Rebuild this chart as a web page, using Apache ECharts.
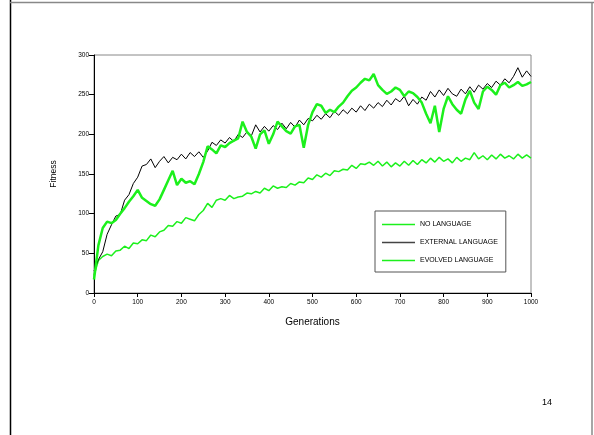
<!DOCTYPE html>
<html>
<head>
<meta charset="utf-8">
<script src="https://cdn.jsdelivr.net/npm/echarts@6/dist/echarts.min.js"></script>
<style>
  html, body { margin: 0; padding: 0; background: #fff; }
  #chart { width: 594px; height: 435px; }
</style>
</head>
<body>
<div id="chart"></div>
<script>
var seriesNames = ['NO LANGUAGE', 'EXTERNAL LANGUAGE', 'EVOLVED LANGUAGE'];

// generations sampled every 10
var generations = [0,10,20,30,40,50,60,70,80,90,
  100,110,120,130,140,150,160,170,180,190,
  200,210,220,230,240,250,260,270,280,290,
  300,310,320,330,340,350,360,370,380,390,
  400,410,420,430,440,450,460,470,480,490,
  500,510,520,530,540,550,560,570,580,590,
  600,610,620,630,640,650,660,670,680,690,
  700,710,720,730,740,750,760,770,780,790,
  800,810,820,830,840,850,860,870,880,890,
  900,910,920,930,940,950,960,970,980,990,1000];

var noLanguage = [22,41,46,49,47,53,54,59,56,63,
  62,67,66,73,71,77,79,85,84,90,
  88,95,93,91,99,104,113,108,117,119,
  117,123,119,121,122,126,125,128,126,132,
  129,135,132,134,133,138,136,140,139,145,
  143,149,146,151,148,154,153,156,155,161,
  157,163,162,165,161,166,160,165,159,164,
  160,166,161,167,162,168,164,170,165,171,
  166,169,164,171,166,170,168,177,169,173,
  168,174,169,175,170,173,169,175,170,174,170];

var externalLanguage = [28,42,52,74,86,97,99,117,124,138,
  146,160,162,169,158,166,172,164,171,168,
  175,169,177,172,178,171,179,190,186,193,
  189,196,191,200,196,203,198,212,203,210,
  204,211,206,214,207,215,209,218,212,220,
  217,224,219,226,221,229,224,231,226,233,
  228,236,230,238,233,240,235,243,237,245,
  241,248,236,244,238,247,243,254,247,256,
  249,258,251,248,257,251,260,253,262,257,
  264,259,267,262,270,265,273,284,272,280,273];

var evolvedLanguage = [17,60,82,90,88,92,100,107,115,122,
  130,120,116,112,110,118,130,142,154,136,
  144,139,141,137,150,165,185,181,176,186,
  184,189,192,195,216,203,197,182,200,205,
  188,200,216,210,204,201,210,212,183,212,
  228,238,236,227,231,228,235,240,248,255,
  259,265,270,268,276,262,256,251,254,259,
  256,248,254,252,247,240,226,214,236,203,
  232,248,238,231,226,244,255,240,232,254,
  260,256,250,262,265,259,262,266,261,263,266];

var yTicks = [0, 50, 100, 150, 200, 250, 300];
var xTicks = [0, 100, 200, 300, 400, 500, 600, 700, 800, 900, 1000];

function pairs(vals) {
  var out = [];
  for (var i = 0; i < vals.length; i++) {
    out.push([generations[i], vals[i]]);
  }
  return out;
}

var green = '#1cf01c';
var font = 'Liberation Sans, Arial, sans-serif';

var chart = echarts.init(document.getElementById('chart'));

chart.setOption({
  animation: false,
  backgroundColor: '#fff',
  textStyle: { fontFamily: font },
  grid: {
    left: 94, right: 63, top: 55, bottom: 142,
    show: true, borderColor: '#888', borderWidth: 1
  },
  xAxis: {
    type: 'value',
    min: xTicks[0], max: xTicks[xTicks.length - 1], interval: 100,
    name: 'Generations',
    nameLocation: 'middle',
    nameGap: 24,
    nameTextStyle: { fontSize: 10, color: '#000', fontFamily: font },
    axisLine: { show: true, lineStyle: { color: '#000', width: 1 } },
    axisTick: { show: true, length: 4, lineStyle: { color: '#000' } },
    axisLabel: { fontSize: 6.5, color: '#000', margin: 6, fontFamily: font,
      formatter: function (v) { return String(v); } },
    splitLine: { show: false }
  },
  yAxis: {
    type: 'value',
    min: yTicks[0], max: yTicks[yTicks.length - 1], interval: 50,
    name: 'Fitness',
    nameLocation: 'middle',
    nameGap: 36,
    nameTextStyle: { fontSize: 8.5, color: '#000', fontFamily: font },
    axisLine: { show: true, lineStyle: { color: '#000', width: 1 } },
    axisTick: { show: true, length: 5, lineStyle: { color: '#000' } },
    axisLabel: { fontSize: 6.5, color: '#000', margin: 5, fontFamily: font },
    splitLine: { show: false }
  },
  legend: {
    orient: 'vertical',
    left: 375, top: 211,
    data: [
      { name: seriesNames[0], itemStyle: { color: green } },
      { name: seriesNames[1], itemStyle: { color: '#444' } },
      { name: seriesNames[2], itemStyle: { color: green } }
    ],
    backgroundColor: '#fff',
    borderColor: '#555', borderWidth: 1,
    padding: [10, 8, 8, 7],
    icon: 'rect',
    itemWidth: 33, itemHeight: 1.5, itemGap: 11,
    textStyle: { fontSize: 7, color: '#000', fontFamily: font }
  },
  series: [
    {
      name: seriesNames[0], type: 'line', data: pairs(noLanguage),
      symbol: 'none', lineStyle: { color: green, width: 1.5 }, itemStyle: { color: green }, z: 2
    },
    {
      name: seriesNames[1], type: 'line', data: pairs(externalLanguage),
      symbol: 'none', lineStyle: { color: '#000', width: 1 }, itemStyle: { color: '#444' }, z: 3
    },
    {
      name: seriesNames[2], type: 'line', data: pairs(evolvedLanguage),
      symbol: 'none', lineStyle: { color: green, width: 2.5 }, itemStyle: { color: green }, z: 4
    }
  ],
  graphic: [
    { type: 'line', shape: { x1: 10.5, y1: 0, x2: 10.5, y2: 435 }, style: { stroke: '#000', lineWidth: 1.5 } },
    { type: 'line', shape: { x1: 10, y1: 2.5, x2: 594, y2: 2.5 }, style: { stroke: '#888', lineWidth: 1.5 } },
    { type: 'line', shape: { x1: 592, y1: 2, x2: 592, y2: 435 }, style: { stroke: '#888', lineWidth: 1.5 } },
    { type: 'text', left: 542, top: 398, style: { text: '14', fontSize: 9, fill: '#000', fontFamily: font } }
  ]
});
</script>
</body>
</html>
